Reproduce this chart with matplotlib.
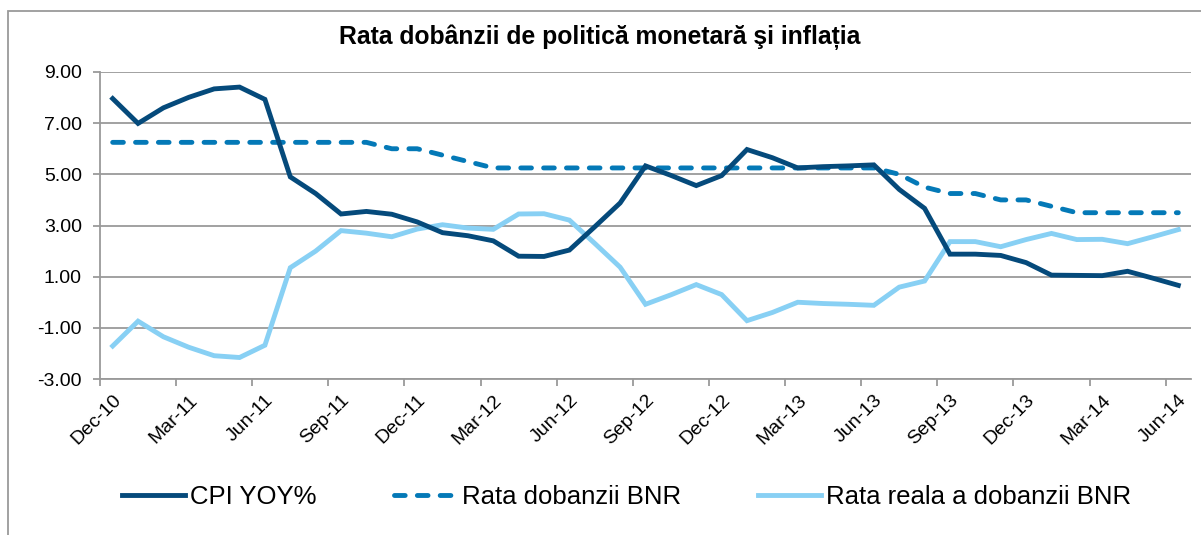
import matplotlib
matplotlib.use("Agg")
import matplotlib.pyplot as plt
from matplotlib.lines import Line2D
from matplotlib.patches import Rectangle

plt.rcParams['font.family'] = ['Liberation Sans', 'DejaVu Sans']

months = ["Dec-10", "Jan-11", "Feb-11", "Mar-11", "Apr-11", "May-11", "Jun-11", "Jul-11", "Aug-11",
          "Sep-11", "Oct-11", "Nov-11", "Dec-11", "Jan-12", "Feb-12", "Mar-12", "Apr-12", "May-12",
          "Jun-12", "Jul-12", "Aug-12", "Sep-12", "Oct-12", "Nov-12", "Dec-12", "Jan-13", "Feb-13",
          "Mar-13", "Apr-13", "May-13", "Jun-13", "Jul-13", "Aug-13", "Sep-13", "Oct-13", "Nov-13",
          "Dec-13", "Jan-14", "Feb-14", "Mar-14", "Apr-14", "May-14", "Jun-14"]

cpi = [7.96, 6.99, 7.60, 8.01, 8.34, 8.41, 7.93, 4.90, 4.25, 3.45, 3.55, 3.44, 3.14, 2.72, 2.60,
       2.40, 1.80, 1.79, 2.04, 2.95, 3.88, 5.33, 4.96, 4.56, 4.95, 5.97, 5.65, 5.25, 5.30, 5.33,
       5.37, 4.41, 3.67, 1.88, 1.88, 1.83, 1.55, 1.06, 1.05, 1.04, 1.21, 0.94, 0.66]

bnr = [6.25, 6.25, 6.25, 6.25, 6.25, 6.25, 6.25, 6.25, 6.25, 6.25, 6.25, 6.00, 6.00, 5.75, 5.50,
       5.25, 5.25, 5.25, 5.25, 5.25, 5.25, 5.25, 5.25, 5.25, 5.25, 5.25, 5.25, 5.25, 5.25, 5.25,
       5.25, 5.00, 4.50, 4.25, 4.25, 4.00, 4.00, 3.75, 3.50, 3.50, 3.50, 3.50, 3.50]

real = [-1.71, -0.74, -1.35, -1.76, -2.09, -2.16, -1.68, 1.35, 2.00, 2.80, 2.70, 2.56, 2.86, 3.03,
        2.90, 2.85, 3.45, 3.46, 3.21, 2.30, 1.37, -0.08, 0.29, 0.69, 0.30, -0.72, -0.40, 0.00,
        -0.05, -0.08, -0.12, 0.59, 0.83, 2.37, 2.37, 2.17, 2.45, 2.69, 2.45, 2.46, 2.29, 2.56, 2.84]

yticks = [-3, -1, 1, 3, 5, 7, 9]
title = "Rata dobânzii de politică monetară şi inflația"
labels = ["CPI YOY%", "Rata dobanzii BNR", "Rata reala a dobanzii BNR"]

W, H = 1201, 535
fig = plt.figure(figsize=(W / 100, H / 100), dpi=100)

# outer chart border
fig.patches.append(Rectangle((8 / W, -0.1), 1.2, 1 - 11 / H + 0.1, transform=fig.transFigure,
                             fill=False, edgecolor='#9a9a9a', linewidth=1.3))

ax = fig.add_axes([100 / W, 1 - 379 / H, 1091 / W, 307 / H])
n = len(months)
x = [i + 0.5 for i in range(n)]

c_cpi = '#054a7b'
c_bnr = '#0479b7'
c_real = '#88d0f4'
lw = 3.5
dash = (0, (2.2, 2.5))

ax.plot(x, real, color=c_real, lw=lw, solid_joinstyle='miter', zorder=3)
ax.plot(x, bnr, color=c_bnr, lw=lw, linestyle=dash, dash_capstyle='round', zorder=4)
ax.plot(x, cpi, color=c_cpi, lw=lw, solid_joinstyle='miter', zorder=5)

ax.set_xlim(0, n)
ax.set_ylim(-3, 9)
ax.set_yticks(yticks)
ax.set_yticklabels([f"{v:.2f}" for v in yticks], fontsize=14)
ax.yaxis.grid(True, color='#9a9a9a', lw=1.3)
ax.set_axisbelow(True)

# x ticks at category boundaries every 3 months, labels at category centres
ax.set_xticks(list(range(0, n, 3)))
ax.set_xticklabels([])
ax.set_xticks([i + 0.5 for i in range(0, n, 3)], minor=True)
ax.set_xticklabels([months[i] for i in range(0, n, 3)], minor=True, rotation=45,
                   ha='right', va='top', rotation_mode='anchor', fontsize=14)
ax.tick_params(axis='x', which='minor', length=0, pad=9)
ax.tick_params(axis='x', which='major', length=5, width=1.3, color='#9a9a9a', direction='out')
ax.tick_params(axis='y', length=5, width=1.3, color='#9a9a9a', direction='out', pad=8)

for s in ['top', 'right']:
    ax.spines[s].set_visible(False)
for s in ['left', 'bottom']:
    ax.spines[s].set_color('#9a9a9a')
    ax.spines[s].set_linewidth(1.3)

fig.text(600 / W, 1 - 37 / H, title, ha='center', va='center', fontsize=17.8, fontweight='bold')

handles = [Line2D([], [], color=c_cpi, lw=lw),
           Line2D([], [], color=c_bnr, lw=lw, linestyle=dash, dash_capstyle='round'),
           Line2D([], [], color=c_real, lw=lw)]
fig.legend(handles, labels, loc='center left', bbox_to_anchor=(122 / W, 1 - 497 / H), ncol=3,
           frameon=False, fontsize=18.5, handlelength=2.45, handletextpad=0.2,
           columnspacing=3.0, borderpad=0, borderaxespad=0)

fig.savefig("out.png", dpi=100)
